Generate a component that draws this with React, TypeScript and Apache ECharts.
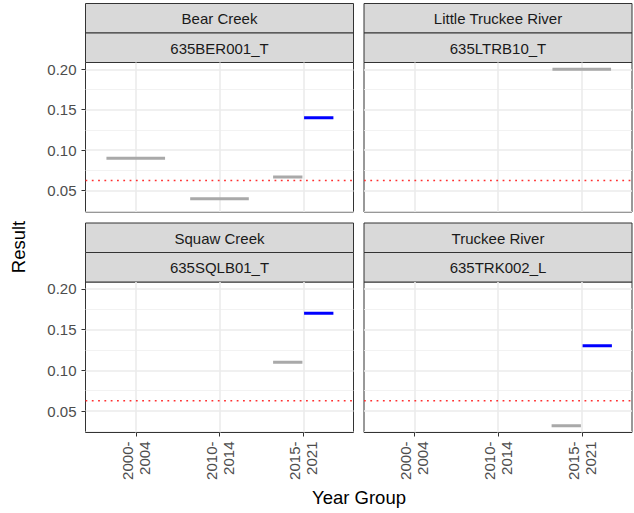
import React, { useEffect, useRef } from "react";
import * as echarts from "echarts";

// ---- data ----
const sites = ["Bear Creek", "Little Truckee River", "Squaw Creek", "Truckee River"];
const stations = ["635BER001_T", "635LTRB10_T", "635SQLB01_T", "635TRK002_L"];
const yearGroups = ["2000-\n2004", "2010-\n2014", "2015-\n2021"];
const grayResults: (number | null)[][] = [
  [0.09, 0.04, 0.067],
  [null, null, 0.2],
  [null, null, 0.11],
  [null, null, 0.032],
];
const blueResults: (number | null)[][] = [
  [null, null, 0.14],
  [null, null, null],
  [null, null, 0.17],
  [null, null, 0.13],
];
const threshold = 0.0625;
const yTicks = [0.05, 0.1, 0.15, 0.2];
const yMinorTicks = [0.025, 0.075, 0.125, 0.175];

// ---- layout / style ----
const FONT = "'Liberation Sans', Arial, sans-serif";
const colLeft = [85.5, 364];
const panelW = 268;
const rowTop = [62.5, 282];
const panelH = [149.5, 150.5];
const stripH = 29.5;
const Y_MIN = 0.0236;
const Y_MAX = 0.2084;
const X_MIN = 0.4;
const X_MAX = 3.6;

export default function App() {
  const ref = useRef<HTMLDivElement>(null);

  useEffect(() => {
    if (!ref.current) return;
    const chart = echarts.init(ref.current, undefined, { renderer: "svg" });

    const grids: any[] = [];
    const xAxes: any[] = [];
    const yAxes: any[] = [];
    const series: any[] = [];
    const graphics: any[] = [];

    sites.forEach((site, i) => {
      const r = Math.floor(i / 2);
      const c = i % 2;
      grids.push({
        left: colLeft[c],
        top: rowTop[r],
        width: panelW,
        height: panelH[r],
        show: true,
        backgroundColor: "#ffffff",
        borderColor: "#333333",
        borderWidth: 1,
        containLabel: false,
      });
      xAxes.push({
        type: "value",
        gridIndex: i,
        min: X_MIN,
        max: X_MAX,
        axisLine: { show: false },
        axisTick: {
          show: r === 1,
          customValues: [1, 2, 3],
          length: 4,
          lineStyle: { color: "#333333", width: 1 },
        },
        axisLabel: {
          show: r === 1,
          customValues: [1, 2, 3],
          rotate: 90,
          margin: 9,
          formatter: (v: number) => yearGroups[Math.round(v) - 1] ?? "",
          color: "#4D4D4D",
          fontSize: 15,
          lineHeight: 17,
          fontFamily: FONT,
        },
        splitLine: { show: true, lineStyle: { color: "#EBEBEB", width: 1.6 } },
      });
      yAxes.push({
        type: "value",
        gridIndex: i,
        min: Y_MIN,
        max: Y_MAX,
        axisLine: { show: false },
        axisTick: {
          show: c === 0,
          customValues: yTicks,
          length: 4,
          lineStyle: { color: "#333333", width: 1 },
        },
        axisLabel: {
          show: c === 0,
          customValues: yTicks,
          margin: 9,
          formatter: (v: number) => v.toFixed(2),
          color: "#4D4D4D",
          fontSize: 15,
          fontFamily: FONT,
        },
        splitLine: { show: true, lineStyle: { color: "#EBEBEB", width: 1.6 } },
      });
      yAxes.push({
        type: "value",
        gridIndex: i,
        min: Y_MIN,
        max: Y_MAX,
        axisLine: { show: false },
        axisTick: { show: false, customValues: yMinorTicks },
        axisLabel: { show: false, customValues: yMinorTicks },
        splitLine: { show: true, lineStyle: { color: "#EFEFEF", width: 0.8 } },
      });

      // threshold
      series.push({
        type: "line",
        xAxisIndex: i,
        yAxisIndex: 2 * i,
        data: [
          [X_MIN, threshold],
          [X_MAX, threshold],
        ],
        symbol: "none",
        silent: true,
        z: 2,
        lineStyle: { color: "#FF3030", width: 1.4, type: [1.8, 4.5], cap: "butt" },
      });

      yearGroups.forEach((_, j) => {
        const g = grayResults[i][j];
        const b = blueResults[i][j];
        const pos = j + 1;
        const both = g != null && b != null;
        if (g != null) {
          const x0 = both ? pos - 0.36 : pos - 0.35;
          const x1 = both ? pos - 0.01 : pos + 0.35;
          series.push({
            type: "line",
            xAxisIndex: i,
            yAxisIndex: 2 * i,
            data: [
              [x0, g],
              [x1, g],
            ],
            symbol: "none",
            silent: true,
            z: 3,
            lineStyle: { color: "#A9A9A9", width: 3, cap: "butt" },
          });
        }
        if (b != null) {
          const x0 = both ? pos + 0.01 : pos - 0.35;
          const x1 = both ? pos + 0.36 : pos + 0.35;
          series.push({
            type: "line",
            xAxisIndex: i,
            yAxisIndex: 2 * i,
            data: [
              [x0, b],
              [x1, b],
            ],
            symbol: "none",
            silent: true,
            z: 3,
            lineStyle: { color: "#0000FF", width: 3, cap: "butt" },
          });
        }
      });

      // strips
      const labels = [site, stations[i]];
      labels.forEach((lab, k) => {
        const top = rowTop[r] - stripH * (2 - k);
        graphics.push({
          type: "rect",
          shape: { x: colLeft[c], y: top, width: panelW, height: stripH },
          style: { fill: "#D9D9D9", stroke: "#333333", lineWidth: 1 },
          silent: true,
        });
        graphics.push({
          type: "text",
          x: colLeft[c] + panelW / 2,
          y: top + stripH / 2 + 0.5,
          style: {
            text: lab,
            fill: "#1A1A1A",
            font: `15px ${FONT}`,
            align: "center",
            verticalAlign: "middle",
          },
          silent: true,
        });
      });
    });

    graphics.push({
      type: "text",
      x: 18.5,
      y: 247,
      rotation: Math.PI / 2,
      style: {
        text: "Result",
        fill: "#000000",
        font: `18.5px ${FONT}`,
        align: "center",
        verticalAlign: "middle",
      },
      silent: true,
    });
    graphics.push({
      type: "text",
      x: 359,
      y: 497,
      style: {
        text: "Year Group",
        fill: "#000000",
        font: `18.5px ${FONT}`,
        align: "center",
        verticalAlign: "middle",
      },
      silent: true,
    });

    chart.setOption({
      animation: false,
      backgroundColor: "#ffffff",
      grid: grids,
      xAxis: xAxes,
      yAxis: yAxes,
      series,
      graphic: graphics,
    });

    return () => chart.dispose();
  }, []);

  return (
    <div
      ref={ref}
      style={{ position: "fixed", left: 0, top: 0, width: 634, height: 513 }}
    />
  );
}
